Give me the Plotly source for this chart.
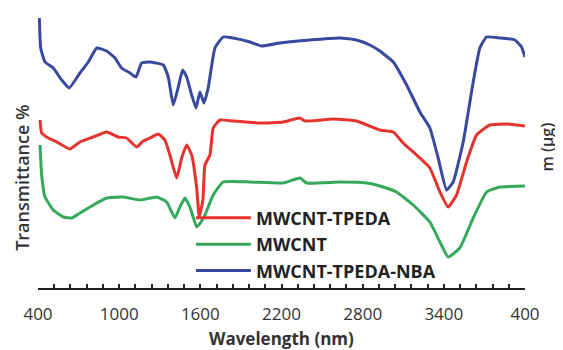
import plotly.graph_objects as go

# Wavelength (nm) and offset transmittance values (arbitrary units) for each spectrum
wl_tpeda = [415, 427, 476, 538, 636, 710, 809, 908, 993, 1055, 1129, 1178, 1228, 1289, 1338,
            1375, 1425, 1462, 1499, 1536, 1573, 1592, 1619, 1634, 1671, 1695, 1745, 1843, 2040,
            2213, 2336, 2374, 2582, 2755, 2927, 3026, 3099, 3198, 3297, 3371, 3432, 3494, 3568,
            3642, 3740, 3864, 4000]
t_tpeda = [168, 155, 150, 146, 139, 146, 151, 156, 151, 150, 141, 147, 150, 154, 148,
           133, 110, 130, 143, 133, 100, 71, 88, 123, 133, 160, 168, 167, 165,
           166, 170, 167, 169, 167, 158, 156, 145, 133, 120, 96, 81, 93, 126,
           153, 163, 164, 162]

wl_mwcnt = [415, 427, 452, 513, 587, 649, 710, 809, 908, 1030, 1154, 1277, 1351, 1412, 1449,
            1486, 1523, 1573, 1605, 1634, 1695, 1769, 1967, 2213, 2336, 2386, 2632, 2829, 2927,
            3050, 3173, 3297, 3371, 3432, 3518, 3617, 3716, 3814, 4000]
t_mwcnt = [143, 113, 91, 78, 71, 70, 75, 83, 90, 91, 88, 91, 86, 70, 81,
           90, 81, 61, 66, 73, 93, 106, 106, 105, 110, 105, 106, 105, 102,
           96, 83, 66, 46, 31, 40, 70, 96, 101, 102]

wl_nba = [410, 420, 452, 513, 575, 631, 710, 772, 834, 908, 969, 1018, 1080, 1124, 1166,
          1228, 1326, 1363, 1400, 1437, 1469, 1499, 1536, 1568, 1597, 1627, 1658, 1708, 1769,
          1843, 1967, 2053, 2188, 2410, 2632, 2755, 2853, 2927, 3026, 3125, 3223, 3297, 3358,
          3420, 3469, 3543, 3617, 3666, 3716, 3814, 3925, 3974, 4000]
t_nba = [270, 240, 226, 220, 208, 200, 215, 226, 240, 237, 230, 220, 215, 211, 225,
         226, 223, 211, 183, 201, 218, 211, 193, 180, 196, 185, 200, 240, 251,
         250, 246, 242, 245, 248, 250, 248, 243, 237, 226, 203, 176, 160, 130,
         98, 106, 146, 206, 240, 251, 250, 248, 241, 231]

series_names = ["MWCNT-TPEDA", "MWCNT", "MWCNT-TPEDA-NBA"]
series_colors = ["#e5332f", "#36a85c", "#38499f"]

tick_vals = [400, 1000, 1600, 2200, 2800, 3400, 4000]
tick_text = ["400", "1000", "1600", "2200", "2800", "3400", "400"]

fig = go.Figure()
for x, y, name, color in zip([wl_tpeda, wl_mwcnt, wl_nba],
                             [t_tpeda, t_mwcnt, t_nba],
                             series_names, series_colors):
    fig.add_trace(go.Scatter(x=x, y=y, mode="lines", name=name,
                             line=dict(color=color, width=3, shape="spline", smoothing=0.4)))

fig.update_layout(
    width=563, height=350,
    margin=dict(l=30, r=46, t=2, b=70),
    paper_bgcolor="white", plot_bgcolor="white",
    font=dict(family="Open Sans", color="#333333"),
    showlegend=True,
    legend=dict(x=0.314, y=0.318, xanchor="left", yanchor="top",
                bgcolor="rgba(0,0,0,0)", tracegroupgap=0, itemwidth=55,
                font=dict(size=18, color="#222222", family="Open Sans", weight="bold")),
    xaxis=dict(range=[400, 4000], showgrid=False, zeroline=False,
               showline=True, linecolor="#222222", linewidth=1.5,
               ticks="inside", ticklen=4, tickwidth=1.5, tickcolor="#222222",
               tickvals=tick_vals, ticktext=tick_text,
               tickfont=dict(size=17, color="#333333"),
               ticklabelstandoff=10,
               minor=dict(dtick=120, tick0=400, ticks="inside", ticklen=4,
                          tickwidth=1.5, tickcolor="#222222")),
    yaxis=dict(range=[0, 278], visible=False),
    annotations=[
        dict(text="Wavelength (nm)", xref="paper", yref="paper",
             x=0.5, y=-0.18, xanchor="center", yanchor="middle", showarrow=False,
             font=dict(size=17, color="#333333", weight="bold")),
        dict(text="Transmittance %", xref="paper", yref="paper",
             x=-0.033, y=0.396, xanchor="center", yanchor="middle",
             textangle=-90, showarrow=False,
             font=dict(size=18, color="#333333", weight=600)),
        dict(text="m (μg)", xref="paper", yref="paper",
             x=1.046, y=0.507, xanchor="center", yanchor="middle",
             textangle=-90, showarrow=False,
             font=dict(size=16, color="#333333", weight=600)),
    ],
)

fig.write_html("out.html")
